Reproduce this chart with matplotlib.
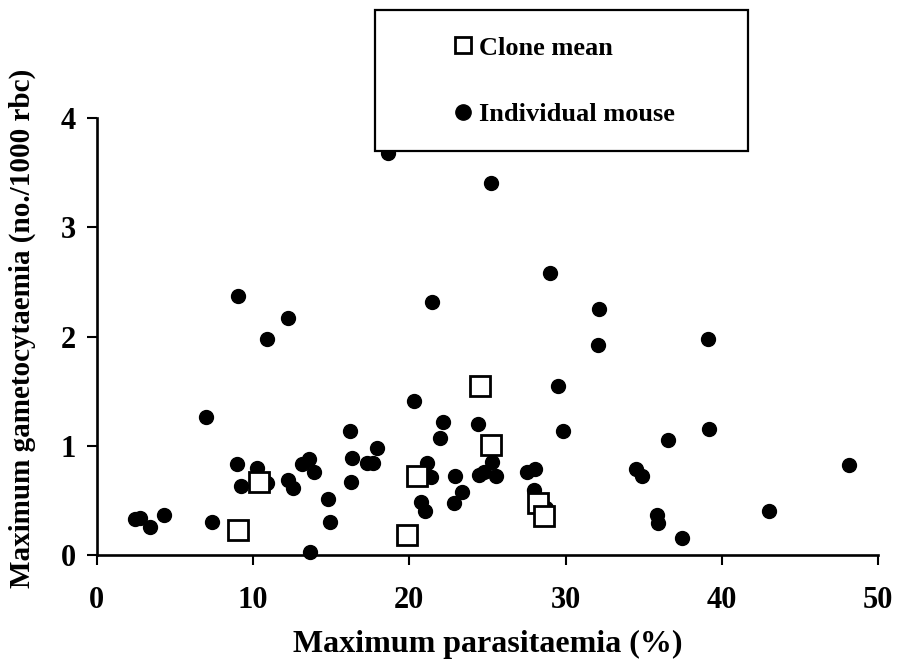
import matplotlib
matplotlib.use("Agg")
import matplotlib.pyplot as plt
from matplotlib.patches import Rectangle

plt.rcParams['font.family'] = ['Liberation Serif', 'DejaVu Serif']
plt.rcParams['font.weight'] = 'bold'

# individual mice: maximum parasitaemia (%) vs maximum gametocytaemia
mouse_para = [2.46, 2.78, 3.42, 4.34, 7.37, 6.99, 9.08, 9.01, 9.23, 10.26,
              10.90, 10.90, 12.28, 12.22, 12.54, 13.14, 13.57, 13.89, 13.67, 14.78,
              14.91, 16.19, 16.35, 16.28, 17.31, 17.69, 17.95, 18.63, 20.34, 21.47,
              22.15, 21.94, 21.11, 21.37, 20.77, 21.04, 25.26, 29.01, 32.15, 32.05,
              39.10, 29.49, 29.81, 36.54, 39.21, 48.12, 34.51, 34.89, 35.85, 35.94,
              37.46, 42.99, 22.92, 23.39, 22.86, 24.42, 24.46, 25.27, 25.53, 24.78,
              27.52, 28.05, 27.99, 28.74]
mouse_gam = [0.33, 0.34, 0.26, 0.37, 0.30, 1.26, 2.37, 0.83, 0.63, 0.80,
             1.975, 0.66, 2.17, 0.69, 0.61, 0.83, 0.88, 0.76, 0.03, 0.51,
             0.30, 1.135, 0.885, 0.67, 0.84, 0.84, 0.98, 3.68, 1.41, 2.32,
             1.215, 1.07, 0.845, 0.71, 0.49, 0.40, 3.41, 2.58, 2.25, 1.92,
             1.98, 1.55, 1.14, 1.05, 1.15, 0.82, 0.79, 0.72, 0.37, 0.29,
             0.16, 0.40, 0.72, 0.58, 0.48, 1.20, 0.73, 0.855, 0.72, 0.76,
             0.76, 0.79, 0.595, 0.43]

# clone means
clone_para = [9.08, 10.42, 19.83, 20.51, 24.51, 25.26, 28.24, 28.63]
clone_gam = [0.23, 0.67, 0.18, 0.72, 1.55, 1.01, 0.48, 0.36]

x_ticks = [0, 10, 20, 30, 40, 50]
y_ticks = [0, 1, 2, 3, 4]

fig = plt.figure(figsize=(8.97, 6.59), dpi=100)
ax = fig.add_axes([0.1076, 0.1578, 0.8714, 0.6627])

mice, = ax.plot(mouse_para, mouse_gam, 'o', color='black', markersize=10,
                linestyle='none', clip_on=False, zorder=3, label='Individual mouse')
clones, = ax.plot(clone_para, clone_gam, 's', markerfacecolor='white',
                  markeredgecolor='black', markeredgewidth=2.0, markersize=14,
                  linestyle='none', clip_on=False, zorder=4, label='Clone mean')

ax.set_xlim(0, 50)
ax.set_ylim(0, 4)
ax.set_xticks(x_ticks)
ax.set_yticks(y_ticks)
ax.spines['top'].set_visible(False)
ax.spines['right'].set_visible(False)
for s in ('left', 'bottom'):
    ax.spines[s].set_linewidth(1.9)
ax.tick_params(axis='both', direction='out', length=7, width=1.5,
               labelsize=22)
ax.tick_params(axis='x', pad=15)
ax.tick_params(axis='y', pad=8)

ax.set_xlabel('Maximum parasitaemia (%)', fontsize=23, fontweight='bold')
ax.xaxis.set_label_coords(0.5, -0.172)
ax.xaxis.label.set_verticalalignment('top')
ax.set_ylabel('Maximum gametocytaemia (no./1000 rbc)', fontsize=21,
              fontweight='bold')
ax.yaxis.set_label_coords(-0.077, 0.52)

# white legend box sitting over the top of the plot
box = Rectangle((375 / 897, 1 - 151 / 659), (748 - 375) / 897, (151 - 10) / 659,
                transform=fig.transFigure, facecolor='white', edgecolor='black',
                linewidth=1.6, zorder=5)
fig.patches.append(box)

leg = fig.legend(handles=[clones, mice], loc='upper left',
                 bbox_to_anchor=(439 / 897, 1 - 23 / 659), frameon=False,
                 fontsize=19, handlelength=0.8, handletextpad=0.2,
                 labelspacing=1.62, borderpad=0)
leg.set_zorder(6)
for h in leg.legend_handles:
    h.set_markersize(12 if h.get_marker() == 's' else 11)

fig.savefig('out.png', dpi=100)
